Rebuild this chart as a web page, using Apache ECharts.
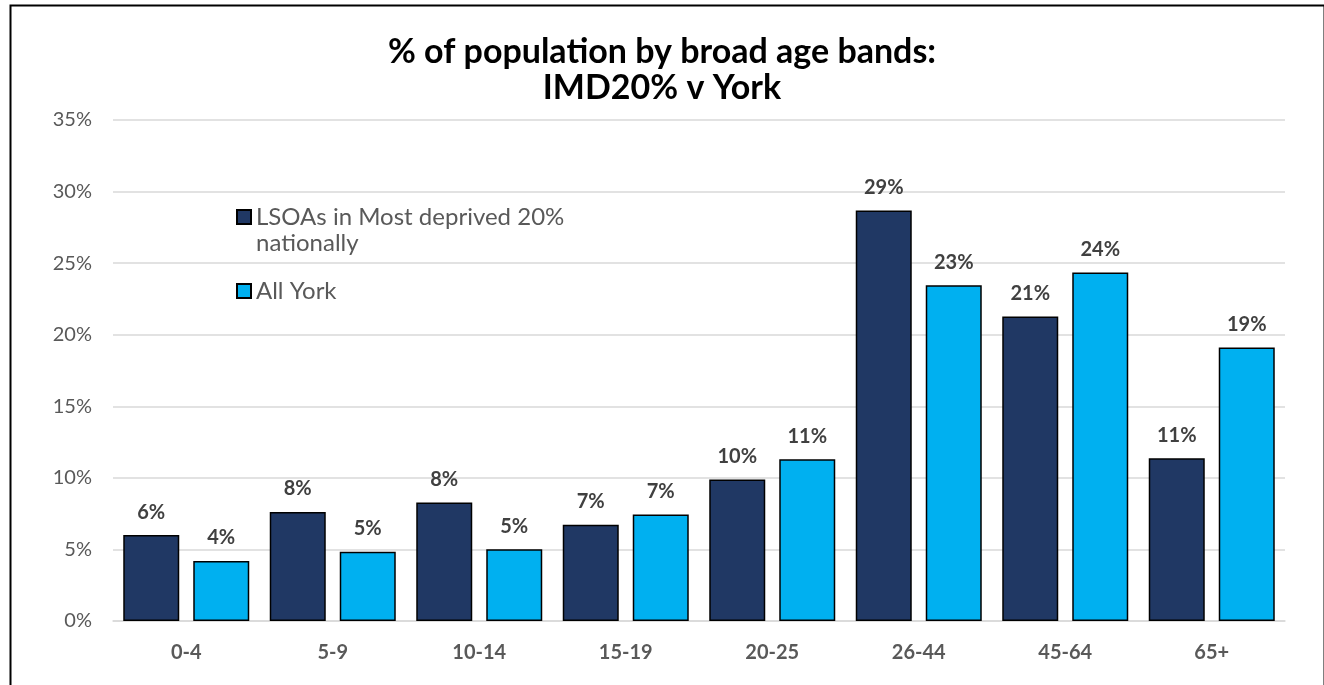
<!DOCTYPE html>
<html>
<head>
<meta charset="utf-8">
<script src="https://cdn.jsdelivr.net/npm/echarts@6/dist/echarts.min.js"></script>
<style>
html,body{margin:0;padding:0;background:#fff;}
#chart{width:1324px;height:685px;}
</style>
</head>
<body>
<div id="chart"></div>
<script>
var categories = ['0-4','5-9','10-14','15-19','20-25','26-44','45-64','65+'];
var seriesNames = ['LSOAs in Most deprived 20% nationally','All York'];
var deprived = [6.0, 7.62, 8.28, 6.72, 9.88, 28.67, 21.28, 11.37];
var allYork = [4.2, 4.83, 5.02, 7.44, 11.3, 23.45, 24.35, 19.1];
var titleLines = ['% of population by broad age bands:', 'IMD20% v York'];

var FONT = 'Lato, "Open Sans", sans-serif';
var chart = echarts.init(document.getElementById('chart'));
var labelCfg = {
  show: true, position: 'top', distance: 13,
  fontFamily: FONT, fontWeight: 'bold', fontSize: 20, color: '#404040',
  formatter: function(p){ return Math.round(p.value) + '%'; }
};
chart.setOption({
  animation: false,
  backgroundColor: '#fff',
  title: {
    text: titleLines.join('\n'),
    left: 'center', top: 29,
    textStyle: {fontFamily: FONT, fontWeight: 'bold', fontSize: 34, color: '#000', lineHeight: 36}
  },
  legend: {
    orient: 'vertical', left: 236, top: 178, padding: 0, itemGap: 22,
    itemWidth: 14, itemHeight: 14, icon: 'rect',
    data: seriesNames,
    formatter: function(name){
      return name === seriesNames[0] ? '\nLSOAs in Most deprived 20%\nnationally' : name;
    },
    textStyle: {fontFamily: FONT, fontSize: 24, color: '#595959', lineHeight: 26}
  },
  grid: {left: 113, right: 39, top: 120, bottom: 64, containLabel: false},
  xAxis: {
    type: 'category', data: categories,
    axisLine: {lineStyle: {color: '#D9D9D9', width: 1.5}},
    axisTick: {show: false},
    axisLabel: {fontFamily: FONT, fontWeight: 'bold', fontSize: 20, color: '#595959', margin: 22}
  },
  yAxis: {
    type: 'value', min: 0, max: 35, interval: 5,
    axisLabel: {formatter: '{value}%', fontFamily: FONT, fontSize: 20, color: '#595959', margin: 21},
    splitLine: {lineStyle: {color: '#D9D9D9', width: 1.5}},
    axisLine: {show: false}, axisTick: {show: false}
  },
  series: [
    {name: seriesNames[0], type: 'bar', data: deprived, barWidth: 56, barGap: '25%',
     itemStyle: {color: '#203864', borderColor: '#000', borderWidth: 1.5}, label: labelCfg},
    {name: seriesNames[1], type: 'bar', data: allYork, barWidth: 56, barGap: '25%',
     itemStyle: {color: '#00B0F0', borderColor: '#000', borderWidth: 1.5}, label: labelCfg}
  ],
  graphic: [{
    type: 'rect', left: 8, top: 3, silent: true, z: 100,
    shape: {width: 1314, height: 720},
    style: {fill: 'none', stroke: '#000', lineWidth: 2}
  }]
});
</script>
</body>
</html>
